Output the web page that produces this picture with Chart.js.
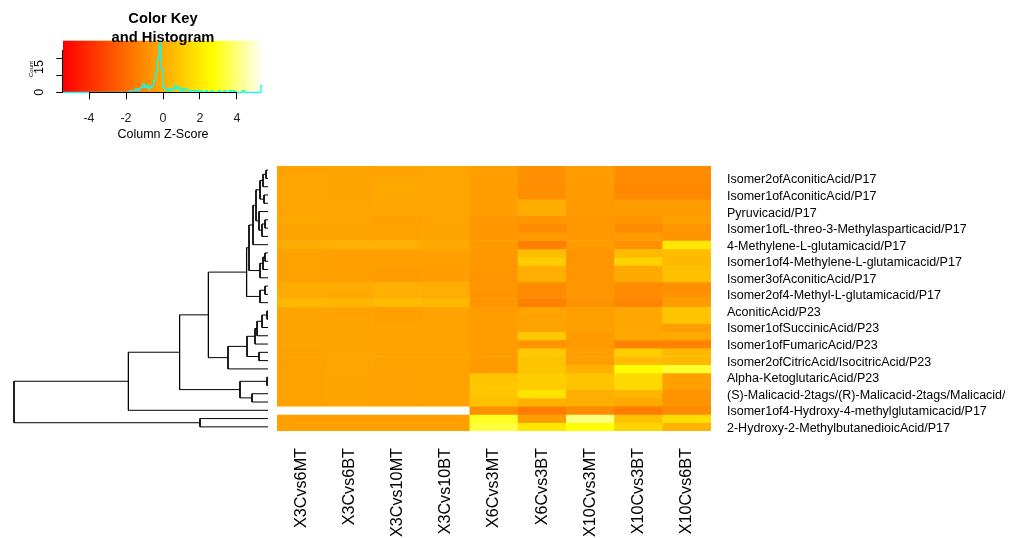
<!DOCTYPE html>
<html>
<head>
<meta charset="utf-8">
<title>Heatmap</title>
<script src="https://cdn.jsdelivr.net/npm/chart.js@4.4.1/dist/chart.umd.min.js"></script>
<style>
  html, body { margin: 0; padding: 0; background: #fff; }
  #wrap { position: relative; width: 1016px; height: 538px; overflow: hidden; }
  canvas { position: absolute; }
</style>
</head>
<body>
<div id="wrap">
  <canvas id="keyChart" width="300" height="150" style="left:0px;top:0px"></canvas>
  <canvas id="dendroChart" width="277" height="300" style="left:0px;top:150px"></canvas>
  <canvas id="heatChart" width="735" height="388" style="left:270px;top:150px"></canvas>
</div>
<script>
// ---- data ----
const colLabels = ["X3Cvs6MT", "X3Cvs6BT", "X3Cvs10MT", "X3Cvs10BT", "X6Cvs3MT",
                   "X6Cvs3BT", "X10Cvs3MT", "X10Cvs3BT", "X10Cvs6BT"];

// only every second row gets a label (the others were dropped in the original)
const rowLabels = [
    "Isomer2ofAconiticAcid/P17",
    "Isomer1ofAconiticAcid/P17",
    "Pyruvicacid/P17",
    "Isomer1ofL-threo-3-Methylasparticacid/P17",
    "4-Methylene-L-glutamicacid/P17",
    "Isomer1of4-Methylene-L-glutamicacid/P17",
    "Isomer3ofAconiticAcid/P17",
    "Isomer2of4-Methyl-L-glutamicacid/P17",
    "AconiticAcid/P23",
    "Isomer1ofSuccinicAcid/P23",
    "Isomer1ofFumaricAcid/P23",
    "Isomer2ofCitricAcid/IsocitricAcid/P23",
    "Alpha-KetoglutaricAcid/P23",
    "(S)-Malicacid-2tags/(R)-Malicacid-2tags/Malicacid/P23",
    "Isomer1of4-Hydroxy-4-methylglutamicacid/P17",
    "2-Hydroxy-2-MethylbutanedioicAcid/P17"
];

// column z-scores, rows top to bottom
const zScores = [
    [-0.26, -0.26, -0.22, -0.19, -0.38, -0.83, -0.45, -0.95, -0.95],
    [-0.19, -0.22, -0.16, -0.16, -0.38, -0.83, -0.45, -0.95, -0.95],
    [-0.19, -0.22, -0.06, -0.16, -0.38, -0.86, -0.51, -1.08, -1.08],
    [-0.19, -0.22, -0.06, -0.16, -0.38, -0.86, -0.51, -1.08, -1.08],
    [-0.19, -0.19, -0.13, -0.16, -0.38,  0.09, -0.51, -0.45, -0.45],
    [-0.19, -0.19, -0.16, -0.16, -0.38,  0.09, -0.51, -0.51, -0.51],
    [-0.06, -0.19, -0.32, -0.22, -0.57, -0.67, -0.57, -0.67, -0.32],
    [-0.22, -0.22, -0.26, -0.22, -0.64, -0.95, -0.57, -0.95, -0.67],
    [-0.22, -0.22, -0.26, -0.22, -0.64, -0.51, -0.57, -0.51, -0.73],
    [ 0.09,  0.19,  0.19,  0.00, -0.51, -1.33, -0.51, -0.76,  1.90],
    [-0.26, -0.32, -0.35, -0.32, -0.60,  0.60, -0.67,  0.51,  0.60],
    [-0.26, -0.32, -0.35, -0.32, -0.60,  1.11, -0.67,  1.27,  0.44],
    [-0.29, -0.32, -0.45, -0.38, -0.67,  0.13, -0.67,  0.00,  0.70],
    [-0.29, -0.32, -0.45, -0.38, -0.67,  0.13, -0.67,  0.00,  0.70],
    [ 0.13,  0.06,  0.19,  0.13, -0.64, -0.95, -0.67, -0.95, -0.83],
    [ 0.03,  0.00,  0.19,  0.09, -0.70, -0.95, -0.67, -0.95, -0.70],
    [ 0.44,  0.38,  0.60,  0.44, -0.67, -1.33, -0.76, -1.18, -0.45],
    [-0.22, -0.22, -0.35, -0.22, -0.41, -0.22, -0.35, -0.13,  0.86],
    [-0.22, -0.22, -0.35, -0.26, -0.41, -0.22, -0.35, -0.13,  0.86],
    [-0.22, -0.22, -0.26, -0.26, -0.41, -0.22, -0.35, -0.13, -0.38],
    [-0.22, -0.22, -0.26, -0.26, -0.41,  0.95, -0.51, -0.06, -0.06],
    [-0.22, -0.22, -0.26, -0.26, -0.41, -0.70, -0.51, -1.24, -1.24],
    [-0.26, -0.22, -0.26, -0.26, -0.41,  0.95, -0.38,  1.11,  0.44],
    [-0.26, -0.19, -0.26, -0.26, -0.51,  0.83, -0.38,  0.57,  0.44],
    [-0.26, -0.19, -0.26, -0.26, -0.51,  0.83,  0.19,  2.70,  3.20],
    [-0.26, -0.22, -0.29, -0.26,  0.83,  1.11,  0.83,  1.46, -0.32],
    [-0.26, -0.22, -0.29, -0.26,  0.95,  1.11,  0.83,  1.46, -0.32],
    [-0.26, -0.22, -0.29, -0.26,  0.83,  1.84,  0.13,  0.32, -0.70],
    [-0.26, -0.22, -0.29, -0.26,  0.70,  0.19,  0.13, -0.06, -0.70],
    [ 5.39,  5.39,  5.39,  5.39, -0.83, -1.46, -0.95, -1.46, -0.95],
    [-0.32, -0.32, -0.32, -0.32,  3.04, -0.38,  4.05,  0.70,  1.62],
    [-0.32, -0.32, -0.32, -0.32,  3.38,  1.97,  2.70,  1.37,  0.25]
];

// row dendrogram, hclust style: negative = leaf (row), positive = earlier merge
const dendroMerges = [
    [-1, -2, 0.10], [1, -3, 0.25], [-4, -5, 0.20], [2, 3, 0.40],
    [-7, -8, 0.15], [5, -9, 0.30], [-6, 6, 0.45], [4, 7, 0.60],
    [8, -10, 0.75], [-11, -12, 0.15], [10, -13, 0.25], [11, -14, 0.40],
    [9, 12, 0.95], [-15, -16, 0.15], [14, -17, 0.40], [13, 15, 1.07],
    [-18, -19, 0.05], [17, -20, 0.30], [18, -21, 0.55], [-23, -24, 0.45],
    [19, -22, 0.65], [21, 20, 1.05], [22, -25, 2.00], [16, 23, 2.98],
    [-26, -27, 0.05], [-28, -29, 0.80], [25, 26, 1.40], [24, 27, 4.42],
    [28, -30, 6.98], [-31, -32, 3.40], [29, 30, 12.70]
];

// colour key histogram (bins of 0.1 starting at -2.0)
const histFrom = -2.0;
const histBinWidth = 0.1;
const histCounts = [0, 0, 1, 1, 1, 2, 1, 2, 3, 5,
                    3, 4, 2, 3, 4, 7, 12, 20, 29, 14,
                    3, 2, 1, 2, 1, 2, 4, 2, 3, 1,
                    2, 1, 2, 1, 0, 1, 1, 0, 1, 0,
                    1, 0, 0, 1, 0, 0, 1, 0, 0, 0,
                    1, 0, 0, 1, 0, 0, 1, 0, 1, 0,
                    0, 0, 0, 1, 0, 0, 0, 0, 0, 0,
                    0, 0, 0, 4];
const keyXTicks = [-4, -2, 0, 2, 4];
const keyYTicks = [0, 5, 10, 15, 20, 25];
const keyYLabels = [0, 15];
const zLimit = 5.39;

// ---- helpers ----
Chart.defaults.font.family = '"Liberation Sans", Arial, Helvetica, sans-serif';
Chart.defaults.color = "#000";
Chart.defaults.animation = false;
Chart.defaults.plugins.legend.display = false;
Chart.defaults.plugins.tooltip.enabled = false;

// heat.colors style: red -> yellow over 3/4, then yellow -> white
function heatColor(z) {
    const t = Math.min(1, Math.max(0, (z + zLimit) / (2 * zLimit)));
    if (t <= 0.75) return `rgb(255,${Math.round(255 * t / 0.75)},0)`;
    return `rgb(255,255,${Math.round(252 * (t - 0.75) / 0.25)})`;
}

// keep the plot area where the layout padding puts it
function noScalePadding(s) {
    s.paddingTop = 0; s.paddingBottom = 0; s.paddingLeft = 0; s.paddingRight = 0;
}

// ---- colour key ----
const histPoints = [{ x: -zLimit, y: 0 }]
    .concat(histCounts.map((c, i) => ({ x: histFrom + i * histBinWidth, y: c })))
    .concat([{ x: zLimit, y: histCounts[histCounts.length - 1] }]);

const keyDecor = {
    id: "keyDecor",
    beforeDatasetsDraw(chart) {
        const { ctx, chartArea: a, scales: { x } } = chart;
        for (let px = Math.floor(a.left); px < Math.ceil(a.right); px++) {
            ctx.fillStyle = heatColor(x.getValueForPixel(px + 0.5));
            ctx.fillRect(px, a.top, 1, a.bottom - a.top);
        }
    },
    afterDraw(chart) {
        const { ctx, chartArea: a, scales: { x, y } } = chart;
        const cx = (a.left + a.right) / 2;
        ctx.save();
        ctx.strokeStyle = "#000";
        ctx.lineWidth = 1;
        ctx.beginPath();
        ctx.moveTo(x.getPixelForValue(keyXTicks[0]), Math.round(a.bottom) + 0.5);
        ctx.lineTo(x.getPixelForValue(keyXTicks[keyXTicks.length - 1]), Math.round(a.bottom) + 0.5);
        ctx.moveTo(Math.round(a.left) - 0.5, y.getPixelForValue(keyYTicks[0]));
        ctx.lineTo(Math.round(a.left) - 0.5, y.getPixelForValue(keyYTicks[keyYTicks.length - 1]));
        ctx.stroke();

        ctx.fillStyle = "#000";
        ctx.textAlign = "center";
        ctx.textBaseline = "middle";
        keyYLabels.forEach(v => {
            ctx.save();
            ctx.translate(a.left - 24, y.getPixelForValue(v));
            ctx.rotate(-Math.PI / 2);
            ctx.font = '12.5px "Liberation Sans", Arial, sans-serif';
            ctx.fillText(String(v), 0, 0);
            ctx.restore();
        });
        ctx.save();
        ctx.translate(a.left - 31.5, 69);
        ctx.rotate(-Math.PI / 2);
        ctx.font = '6px "Liberation Sans", Arial, sans-serif';
        ctx.fillText("Count", 0, 0);
        ctx.restore();

        ctx.font = '12.5px "Liberation Sans", Arial, sans-serif';
        ctx.fillText("Column Z-Score", cx, 135);
        ctx.font = 'bold 14.7px "Liberation Sans", Arial, sans-serif';
        ctx.fillText("Color Key", cx, 19);
        ctx.fillText("and Histogram", cx, 38);
        ctx.restore();
    }
};

new Chart(document.getElementById("keyChart"), {
    type: "scatter",
    data: {
        datasets: [{
            data: histPoints,
            showLine: true,
            stepped: true,
            borderColor: "#00FFFF",
            borderWidth: 1.3,
            pointRadius: 0,
            clip: false
        }]
    },
    options: {
        responsive: false,
        layout: { padding: { top: 40.7, right: 37.3, left: 0, bottom: 0 } },
        scales: {
            x: {
                type: "linear", min: -zLimit, max: zLimit,
                afterBuildTicks: s => { s.ticks = keyXTicks.map(v => ({ value: v })); },
                afterFit: s => { s.height = 57.7; noScalePadding(s); },
                grid: { drawOnChartArea: false, tickLength: 7, color: "#000" },
                border: { display: false },
                ticks: { padding: 12, font: { size: 12.5 }, color: "#222", callback: v => String(v) }
            },
            y: {
                type: "linear", min: 0, max: Math.max(...histCounts) / 0.95,
                afterBuildTicks: s => { s.ticks = keyYTicks.map(v => ({ value: v })); },
                afterFit: s => { s.width = 63.3; noScalePadding(s); },
                grid: { drawOnChartArea: false, tickLength: 7, color: "#000" },
                border: { display: false },
                ticks: { callback: () => "" }
            }
        }
    },
    plugins: [keyDecor]
});

// ---- row dendrogram ----
function dendroSegments() {
    const nodes = [];
    const pos = ref => ref < 0 ? { h: 0, y: -ref - 0.5 } : nodes[ref - 1];
    return dendroMerges.map(([a, b, h]) => {
        const l = pos(a), r = pos(b);
        nodes.push({ h, y: (l.y + r.y) / 2 });
        return [{ x: l.h, y: l.y }, { x: h, y: l.y }, { x: h, y: r.y }, { x: r.h, y: r.y }];
    });
}

new Chart(document.getElementById("dendroChart"), {
    type: "scatter",
    data: {
        datasets: dendroSegments().map(pts => ({
            data: pts,
            showLine: true,
            borderColor: "#000",
            borderWidth: 1,
            pointRadius: 0,
            clip: false
        }))
    },
    options: {
        responsive: false,
        layout: { padding: { left: 14, right: 9, top: 16, bottom: 19 } },
        scales: {
            x: { type: "linear", reverse: true, min: 0, max: dendroMerges[dendroMerges.length - 1][2], display: false },
            y: { type: "linear", reverse: true, min: 0, max: zScores.length, display: false }
        }
    }
});

// ---- heatmap ----
new Chart(document.getElementById("heatChart"), {
    type: "bar",
    data: {
        labels: colLabels,
        datasets: zScores.map((row, r) => ({
            data: row.map(() => [r, r + 1]),
            backgroundColor: row.map(heatColor),
            grouped: false,
            barPercentage: 1,
            categoryPercentage: 1,
            borderWidth: 0
        }))
    },
    options: {
        responsive: false,
        layout: { padding: { left: 7, top: 16, right: 0, bottom: 0 } },
        scales: {
            x: {
                afterFit: s => { s.height = 107; noScalePadding(s); },
                grid: { display: false, drawTicks: false },
                border: { display: false },
                ticks: { autoSkip: false, minRotation: 90, maxRotation: 90, padding: 17,
                         font: { size: 16.2 }, color: "#000" }
            },
            y: {
                type: "linear", position: "right", reverse: true, min: 0, max: zScores.length,
                afterBuildTicks: s => { s.ticks = rowLabels.map((_, i) => ({ value: 2 * i + 1.5 })); },
                afterFit: s => { s.width = 294; noScalePadding(s); },
                grid: { display: false, drawTicks: false },
                border: { display: false },
                ticks: { autoSkip: false, padding: 16, labelOffset: 1.5, font: { size: 12.5 }, color: "#000",
                         callback: (v, i) => rowLabels[i] }
            }
        }
    }
});
</script>
</body>
</html>
